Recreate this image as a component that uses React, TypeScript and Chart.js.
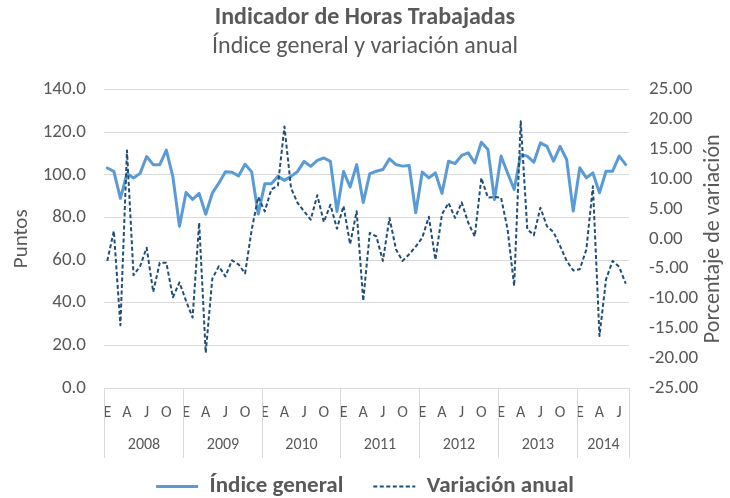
import React, { useEffect, useRef } from 'react';
import { Chart, registerables } from 'chart.js';

Chart.register(...registerables);

const FONT = 'Carlito, Lato, "Open Sans", sans-serif';
const TEXT = '#595959';
const GRID = '#D9D9D9';
const BLUE = '#5B9BD5';
const NAVY = '#1F4E79';

const years = ['2008', '2009', '2010', '2011', '2012', '2013', '2014'];
const monthsPerYear = [12, 12, 12, 12, 12, 12, 8];
const monthInitials = ['E', 'F', 'M', 'A', 'M', 'J', 'J', 'A', 'S', 'O', 'N', 'D'];

const indiceGeneral = [
  103.2, 101.6, 89.0, 100.6, 98.5, 100.7, 108.6, 104.8, 104.8, 111.6, 99.0, 75.9,
  91.7, 88.5, 91.3, 81.5, 91.4, 96.1, 101.5, 101.2, 99.5, 105.0, 101.4, 81.6,
  95.8, 95.8, 99.3, 97.4, 99.3, 101.6, 106.3, 104.0, 106.8, 107.9, 106.3, 82.8,
  101.6, 94.3, 104.8, 87.0, 100.6, 101.7, 102.5, 107.5, 104.8, 104.1, 104.4, 82.2,
  101.3, 98.6, 100.9, 91.3, 106.4, 105.3, 109.1, 110.3, 105.6, 115.3, 111.9, 88.4,
  108.8, 100.9, 93.1, 109.5, 108.8, 105.9, 115.0, 113.4, 106.4, 113.4, 107.2, 83.0,
  103.3, 98.6, 100.9, 91.6, 101.7, 101.7, 108.8, 104.8,
];

const variacionAnual = [
  -3.7, 1.3, -14.5, 14.8, -6.1, -4.6, -1.5, -8.9, -4.0, -4.0, -9.8, -7.3,
  -10.4, -13.2, 2.7, -19.1, -6.7, -4.6, -6.3, -3.6, -4.3, -5.8, 1.5, 7.0,
  4.6, 8.3, 8.9, 18.8, 8.5, 6.0, 4.6, 3.2, 7.3, 2.8, 5.7, 1.7,
  5.5, -0.9, 4.6, -10.4, 1.0, 0.4, -3.7, 3.5, -1.8, -3.7, -2.6, -1.3,
  0.2, 3.7, -3.5, 4.1, 6.0, 3.5, 6.1, 2.7, 0.4, 10.2, 6.9, 7.0,
  6.9, 1.6, -7.9, 19.7, 1.6, 0.6, 5.2, 2.1, 1.1, -1.2, -3.7, -5.3,
  -5.1, -1.8, 8.8, -16.3, -6.8, -3.7, -4.7, -7.5,
];

const leftRange = [0, 140, 20];
const rightRange = [-25, 25, 5];

const categories = years.flatMap((y, k) =>
  monthInitials.slice(0, monthsPerYear[k]).map((m) => `${m} ${y}`)
);

const yearAxisPlugin = {
  id: 'yearAxis',
  afterDraw(chart: any) {
    const xs = chart.scales.x;
    const { ctx, chartArea } = chart;
    const half = (xs.getPixelForValue(1) - xs.getPixelForValue(0)) / 2;
    const top = chartArea.bottom;
    const bottom = top + 70;
    ctx.save();
    ctx.strokeStyle = GRID;
    ctx.lineWidth = 1;
    ctx.fillStyle = TEXT;
    ctx.font = `16px ${FONT}`;
    ctx.textAlign = 'center';
    ctx.textBaseline = 'middle';
    let start = 0;
    const edge = (i: number) => Math.round(xs.getPixelForValue(i) - half) + 0.5;
    years.forEach((y, k) => {
      const x0 = edge(start);
      const x1 = edge(start + monthsPerYear[k]);
      ctx.beginPath();
      ctx.moveTo(x0, top);
      ctx.lineTo(x0, bottom);
      ctx.stroke();
      ctx.fillText(y, (x0 + x1) / 2, top + 57);
      start += monthsPerYear[k];
    });
    const xe = edge(start);
    ctx.beginPath();
    ctx.moveTo(xe, top);
    ctx.lineTo(xe, bottom);
    ctx.stroke();

    ctx.font = `22px ${FONT}`;
    ctx.translate(713, (chartArea.top + chartArea.bottom) / 2);
    ctx.rotate(-Math.PI / 2);
    ctx.fillText('Porcentaje de variación', 0, 0);
    ctx.restore();
  },
};

export default function App() {
  const ref = useRef<HTMLCanvasElement | null>(null);

  useEffect(() => {
    if (!ref.current) return;
    const chart = new Chart(ref.current, {
      type: 'line',
      data: {
        labels: categories,
        datasets: [
          {
            label: 'Índice general',
            data: indiceGeneral,
            yAxisID: 'y',
            borderColor: BLUE,
            backgroundColor: BLUE,
            borderWidth: 3,
            pointRadius: 0,
            tension: 0,
            borderJoinStyle: 'round',
            borderCapStyle: 'round',
            order: 1,
          },
          {
            label: 'Variación anual',
            data: variacionAnual,
            yAxisID: 'y1',
            borderColor: NAVY,
            backgroundColor: NAVY,
            borderWidth: 2,
            borderDash: [4, 2.5],
            pointRadius: 0,
            tension: 0,
            borderJoinStyle: 'round',
            order: 0,
          },
        ],
      },
      options: {
        responsive: false,
        animation: false,
        layout: { padding: { top: 0, left: 0, right: 0, bottom: -10 } },
        scales: {
          x: {
            type: 'category',
            offset: true,
            grid: { display: false, drawTicks: false },
            border: { display: false },
            ticks: {
              autoSkip: false,
              maxRotation: 0,
              minRotation: 0,
              padding: 15,
              color: TEXT,
              font: { size: 16, family: FONT },
              callback: (_v: any, i: number) => (i % 3 === 0 ? monthInitials[i % 12] : ''),
            },
            afterFit: (s: any) => {
              s.height = 57;
            },
          },
          y: {
            position: 'left',
            min: leftRange[0],
            max: leftRange[1],
            ticks: {
              stepSize: leftRange[2],
              padding: 18,
              color: TEXT,
              font: { size: 19, family: FONT },
              callback: (v: any) => Number(v).toFixed(1),
            },
            grid: { color: GRID, drawTicks: false, lineWidth: 1 },
            border: { display: false },
            title: {
              display: true,
              text: 'Puntos',
              color: TEXT,
              font: { size: 21, family: FONT },
              padding: { top: 9, bottom: 0 },
            },
            afterFit: (s: any) => {
              s.width = 104;
            },
          },
          y1: {
            position: 'right',
            min: rightRange[0],
            max: rightRange[1],
            ticks: {
              stepSize: rightRange[2],
              padding: 20,
              color: TEXT,
              font: { size: 19, family: FONT },
              callback: (v: any) => Number(v).toFixed(2),
            },
            grid: { display: false, drawTicks: false },
            border: { display: false },
            afterFit: (s: any) => {
              s.width = 101;
            },
          },
        },
        plugins: {
          title: {
            display: true,
            text: 'Indicador de Horas Trabajadas',
            color: TEXT,
            font: { size: 24, weight: 'bold', family: FONT },
            padding: { top: 4, bottom: 0 },
          },
          subtitle: {
            display: true,
            text: 'Índice general y variación anual',
            color: TEXT,
            font: { size: 24, weight: 'normal', family: FONT },
            padding: { top: 0, bottom: 28 },
          },
          legend: {
            position: 'bottom',
            labels: {
              usePointStyle: true,
              pointStyleWidth: 42,
              padding: 30,
              color: TEXT,
              font: { size: 23, weight: 'bold', family: FONT },
              generateLabels: () => [
                {
                  text: 'Índice general',
                  pointStyle: 'line',
                  strokeStyle: BLUE,
                  fillStyle: BLUE,
                  lineWidth: 3,
                  lineDash: [],
                  fontColor: TEXT,
                  datasetIndex: 0,
                  hidden: false,
                },
                {
                  text: 'Variación anual',
                  pointStyle: 'line',
                  strokeStyle: NAVY,
                  fillStyle: NAVY,
                  lineWidth: 2,
                  lineDash: [4, 2.5],
                  fontColor: TEXT,
                  datasetIndex: 1,
                  hidden: false,
                },
              ],
            },
          },
          tooltip: { enabled: false },
        },
      },
      plugins: [yearAxisPlugin],
    });
    return () => chart.destroy();
  }, []);

  return (
    <div style={{ position: 'fixed', left: 0, top: 0, width: 730, height: 498, overflow: 'hidden', background: '#fff' }}>
      <canvas ref={ref} width={730} height={498} style={{ display: 'block' }} />
    </div>
  );
}
